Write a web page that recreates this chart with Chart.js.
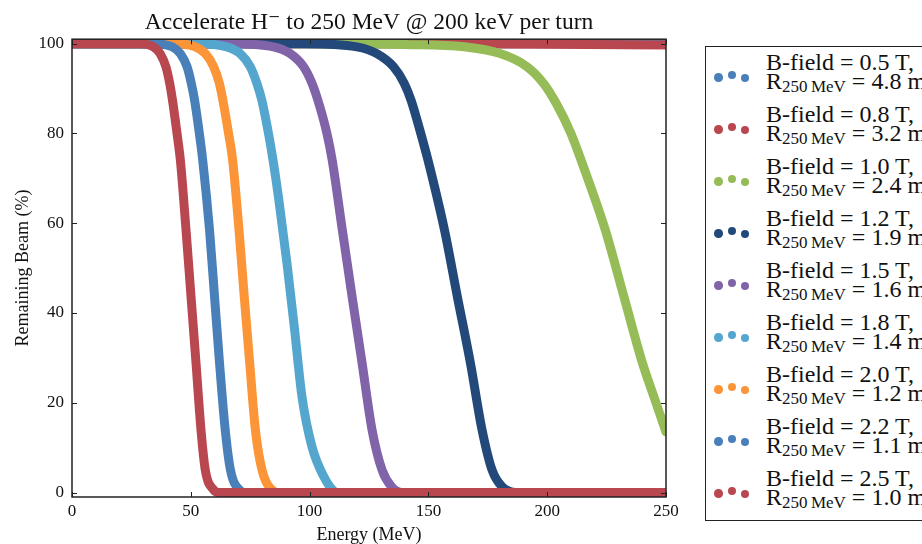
<!DOCTYPE html>
<html>
<head>
<meta charset="utf-8">
<script src="https://cdn.jsdelivr.net/npm/chart.js@4.4.1/dist/chart.umd.min.js"></script>
<style>
  html, body { margin: 0; padding: 0; background: #fff; overflow: hidden; width: 922px; height: 544px; }
  #wrap { position: relative; width: 922px; height: 544px; overflow: hidden; }
  #chart { position: absolute; left: 0; top: 0; }
  #legend { position: absolute; left: 705px; top: 46px; width: 300px; height: 473px;
            border: 1.5px solid #222; background: #fff;
            font-family: 'Liberation Serif', 'DejaVu Serif', serif; color: #111; }
  .entry { position: absolute; left: 0; width: 100%; height: 52px; }
  .dot { position: absolute; width: 8.5px; height: 8.5px; border-radius: 50%; }
  .line { position: absolute; left: 60px; font-size: 24px; line-height: 24px; white-space: nowrap; }
  .sub { font-size: 17px; line-height: 0; position: relative; top: 3px; }
</style>
</head>
<body>
<div id="wrap">
  <canvas id="chart" width="922" height="544"></canvas>
  <div id="legend"></div>
</div>
<script>
// Axis ticks
const energyTicks = [0, 50, 100, 150, 200, 250];
const beamTicks = [0, 20, 40, 60, 80, 100];

// Legend text per field strength
const fieldLabels = ['0.5', '0.8', '1.0', '1.2', '1.5', '1.8', '2.0', '2.2', '2.5'];
const radiusLabels = ['4.8', '3.2', '2.4', '1.9', '1.6', '1.4', '1.2', '1.1', '1.0'];

// Remaining beam (%) versus energy (MeV) for each field strength
const e05 = [0, 250];
const p05 = [100, 100];

const e08 = [0, 150, 200, 250];
const p08 = [100, 100, 99.9, 99.7];

const e10 = [0, 108.7, 140, 165, 180.2, 191.4, 198.4, 204, 210, 216, 224.5, 232.3, 240, 245, 250];
const p10 = [100, 100, 99.8, 99.3, 97.8, 94.9, 91.2, 86.5, 80, 71.5, 58.4, 43.6, 29, 21.2, 13.5];

const e12 = [0, 97.3, 119.9, 128.3, 135.3, 139.8, 142.7, 146.8, 149.8, 156.8, 162.2, 167.7, 172.6, 176.8, 181, 187, 250];
const p12 = [100, 100, 99.3, 97.8, 94.9, 91.2, 87.4, 80, 74.1, 58.4, 43.6, 28.8, 13.9, 5, 1.3, 0, 0];

const e15 = [0, 66.6, 84.8, 91.8, 97.4, 101, 103.5, 107.3, 109.5, 113.8, 117.9, 122.1, 126.3, 130.5, 134.5, 139, 250];
const p15 = [100, 100, 99.3, 97.8, 94.9, 91.2, 87.4, 80, 74.1, 58.4, 43.6, 28.8, 13.9, 5, 1.3, 0, 0];

const e18 = [0, 52.6, 65.2, 70.8, 75, 77.8, 79.9, 82.7, 84.6, 86.9, 90.5, 93.7, 96.8, 101, 105.9, 110.2, 112, 250];
const p18 = [100, 100, 99.3, 97.8, 94.9, 91.2, 87.4, 80, 74.1, 65.8, 51, 36.2, 21.3, 10.2, 3.6, 0.3, 0, 0];

const e20 = [0, 42.6, 51.9, 56.1, 59.6, 62, 63.5, 65.9, 67.6, 70.3, 72.5, 74.8, 77.2, 80, 84.9, 87, 250];
const p20 = [100, 100, 99.3, 97.8, 94.9, 91.2, 87.4, 80, 74.1, 58.4, 43.6, 28.8, 13.9, 5, 0.3, 0, 0];

const e22 = [0, 34.3, 42.1, 45.6, 48.4, 50.2, 51.6, 53.6, 55, 57.9, 60, 62.1, 64.5, 66.7, 70.9, 73, 250];
const p22 = [100, 100, 99.3, 97.8, 94.9, 91.2, 87.4, 80, 74.1, 58.4, 43.6, 28.8, 13.9, 5, 0.4, 0, 0];

const e25 = [0, 28.7, 34.3, 37.1, 39.5, 41.1, 42.3, 44.2, 45.6, 48, 50.1, 52.2, 54.3, 56.1, 59.6, 62, 250];
const p25 = [100, 100, 99.3, 97.8, 94.9, 91.2, 87.4, 80, 74.1, 58.4, 43.6, 28.8, 13.9, 5, 0.6, 0, 0];

const energies = [e05, e08, e10, e12, e15, e18, e20, e22, e25];
const beams = [p05, p08, p10, p12, p15, p18, p20, p22, p25];
const colors = ['#4a80ba', '#b9474f', '#96bc58', '#22497a', '#8063a9', '#55a6cf', '#fc9537', '#4a80ba', '#b9474f'];

const serif = "'Liberation Serif', 'DejaVu Serif', serif";

const datasets = energies.map((es, i) => ({
  label: 'B-field = ' + fieldLabels[i] + ' T',
  data: es.map((e, j) => ({ x: e, y: beams[i][j] })),
  showLine: true,
  borderColor: colors[i],
  backgroundColor: colors[i],
  borderWidth: 9,
  pointRadius: 0,
  borderCapStyle: 'round',
  borderJoinStyle: 'round',
  cubicInterpolationMode: 'monotone',
  clip: 0,
  order: energies.length - i
}));

// Axes frame with inward tick marks on all four sides
const framePlugin = {
  id: 'frame',
  afterDatasetsDraw(chart) {
    const { ctx, chartArea: a, scales: { x, y } } = chart;
    ctx.save();
    ctx.strokeStyle = '#222';
    ctx.lineWidth = 1;
    ctx.beginPath();
    energyTicks.forEach(v => {
      const px = Math.round(x.getPixelForValue(v)) + 0.5;
      ctx.moveTo(px, a.bottom); ctx.lineTo(px, a.bottom - 5);
      ctx.moveTo(px, a.top); ctx.lineTo(px, a.top + 5);
    });
    beamTicks.forEach(v => {
      const py = Math.round(y.getPixelForValue(v)) + 0.5;
      ctx.moveTo(a.left, py); ctx.lineTo(a.left + 5, py);
      ctx.moveTo(a.right, py); ctx.lineTo(a.right - 5, py);
    });
    ctx.stroke();
    ctx.lineWidth = 1.5;
    ctx.strokeRect(a.left, a.top, a.right - a.left, a.bottom - a.top);
    ctx.restore();
  }
};

new Chart(document.getElementById('chart'), {
  type: 'scatter',
  data: { datasets },
  plugins: [framePlugin],
  options: {
    responsive: false,
    animation: false,
    devicePixelRatio: 1,
    layout: { padding: { left: 0, right: 256, top: 0, bottom: 0 } },
    plugins: {
      legend: { display: false },
      tooltip: { enabled: false },
      title: {
        display: true,
        text: 'Accelerate H\u207B to 250 MeV @ 200 keV per turn',
        fullSize: false,
        color: '#111',
        font: { family: serif, size: 23.5, weight: 'normal' },
        padding: { top: 9, bottom: 2 }
      }
    },
    scales: {
      x: {
        type: 'linear',
        min: 0,
        max: 250,
        afterBuildTicks: axis => { axis.ticks = energyTicks.map(v => ({ value: v })); },
        afterFit: axis => { axis.height = 47; },
        grid: { display: false, drawTicks: false },
        border: { display: false },
        ticks: { color: '#111', padding: 4, font: { family: serif, size: 17 } },
        title: {
          display: true, text: 'Energy (MeV)', color: '#111',
          font: { family: serif, size: 18, lineHeight: 1 },
          padding: { top: 0, bottom: 0 }
        }
      },
      y: {
        type: 'linear',
        min: -1,
        max: 101,
        afterBuildTicks: axis => { axis.ticks = beamTicks.map(v => ({ value: v })); },
        afterFit: axis => { axis.width = 72; },
        grid: { display: false, drawTicks: false },
        border: { display: false },
        ticks: { color: '#111', padding: 8, font: { family: serif, size: 17 } },
        title: {
          display: true, text: 'Remaining Beam (%)', color: '#111',
          font: { family: serif, size: 18, lineHeight: 1 },
          padding: { top: 14, bottom: 0 }
        }
      }
    }
  }
});

// Legend: three dots per entry, two-line label with subscripted radius
const legend = document.getElementById('legend');
const dotX = [12.5, 25.8, 39.2];
const dotDy = [7.3, 5, 8];
fieldLabels.forEach((f, i) => {
  const entry = document.createElement('div');
  entry.className = 'entry';
  entry.style.top = (52 * i) + 'px';
  dotX.forEach((cx, k) => {
    const d = document.createElement('span');
    d.className = 'dot';
    d.style.background = colors[i];
    d.style.left = (cx - 4.25) + 'px';
    d.style.top = (23.2 + dotDy[k] - 4.25) + 'px';
    entry.appendChild(d);
  });
  const l1 = document.createElement('div');
  l1.className = 'line';
  l1.style.top = '3.1px';
  l1.textContent = 'B-field = ' + f + ' T,';
  const l2 = document.createElement('div');
  l2.className = 'line';
  l2.style.top = '21.7px';
  l2.innerHTML = 'R<span class="sub">250\u2009MeV</span> = ' + radiusLabels[i] + ' m';
  entry.appendChild(l1);
  entry.appendChild(l2);
  legend.appendChild(entry);
});
</script>
</body>
</html>
